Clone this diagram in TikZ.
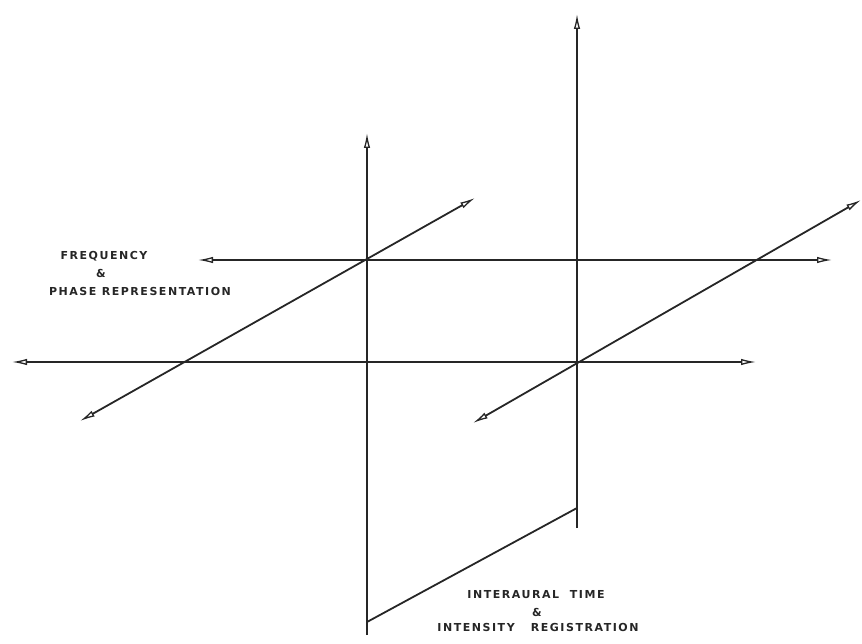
\documentclass[tikz,border=0pt]{standalone}
\usepackage{fontspec}
\newfontfamily\labfont[LetterSpace=14]{DejaVu Sans Bold}
\usetikzlibrary{arrows.meta}
\begin{document}
\begin{tikzpicture}[x=1pt,y=-1pt,
  ax/.style={line width=1.8pt,draw=black!85},
  tip/.style={-{Latex[open,length=15pt,width=6.5pt,line width=1.3pt]}},
  bitip/.style={{Latex[open,length=15pt,width=6.5pt,line width=1.3pt]}-{Latex[open,length=15pt,width=6.5pt,line width=1.3pt]}},
  lab/.style={font=\labfont\fontsize{11}{12}\selectfont,inner sep=0pt,text=black!85}]
\useasboundingbox (0,0) rectangle (862,644);
% coordinates
\coordinate (O1) at (367,260);
\coordinate (O2) at (577,362);
\coordinate (v1t) at (367,133);
\coordinate (v1b) at (367,635);
\coordinate (h1l) at (198,260);
\coordinate (h1r) at (832,260);
\coordinate (d1a) at (80,421);
\coordinate (d1b) at (475,198);
\coordinate (h2l) at (12,362);
\coordinate (h2r) at (756,362);
\coordinate (v2t) at (577,14);
\coordinate (v2b) at (577,528);
\coordinate (d2a) at (473,423);
\coordinate (d2b) at (861,200);
\coordinate (s1) at (367,622);
\coordinate (s2) at (577,508);
% axes
\draw[ax,tip] (v1b) -- (v1t);
\draw[ax,bitip] (h1l) -- (h1r);
\draw[ax,bitip] (d1a) -- (d1b);
\draw[ax,bitip] (h2l) -- (h2r);
\draw[ax,tip] (v2b) -- (v2t);
\draw[ax,bitip] (d2a) -- (d2b);
\draw[ax] (s1) -- (s2);
% labels
\node[lab] (f1) at (104,256) {FREQUENCY};
\node[lab] (f2) at (101,273) {\&};
\node[lab] (f3) at (140,291) {PHASE REPRESENTATION};
\node[lab] (i1) at (536,595) {INTERAURAL\ \ TIME};
\node[lab] (i2) at (537,612) {\&};
\node[lab] (i3) at (538,627) {INTENSITY\ \ \ REGISTRATION};
\end{tikzpicture}
\end{document}
